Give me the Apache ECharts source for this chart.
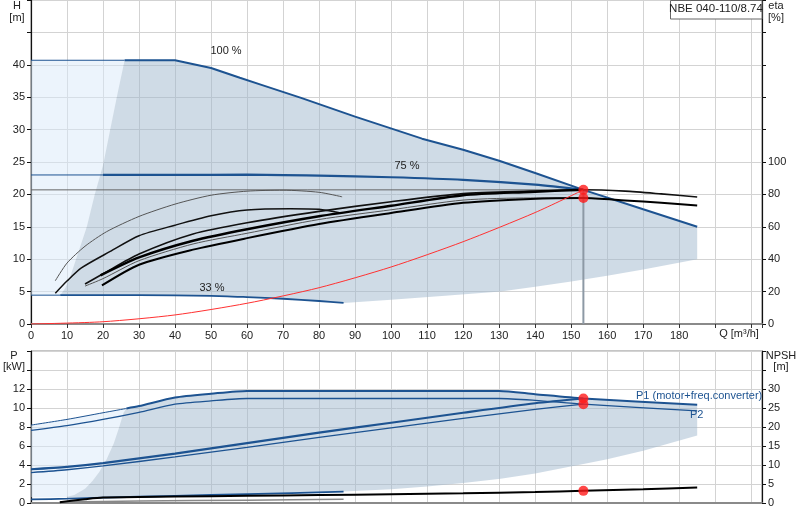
<!DOCTYPE html>
<html>
<head>
<meta charset="utf-8">
<script src="https://cdn.jsdelivr.net/npm/echarts@6/dist/echarts.min.js"></script>
<style>html,body{margin:0;padding:0;background:#fff}#main{width:800px;height:520px}</style>
</head>
<body>
<div id="main"></div>
<script>
var myChart = echarts.init(document.getElementById('main'));

/* Q-H curves (top chart), [Q m3/h, H m] */
var h100 = [[0,40.7],[26,40.7],[40,40.7],[50,39.5],[58,38],[64,36.9],[75,34.9],[90,32],[108.6,28.6],[120,26.9],[130,25.2],[140,23.3],[153.4,20.7],[170,17.7],[185,15.0]];
var h75 = [[0,23],[20,23],[40,23],[60,23.05],[80,22.9],[100,22.65],[120,22.25],[140,21.5],[153.4,20.7]];
var h33 = [[0,4.45],[8.1,4.45],[30,4.45],[50,4.35],[60,4.15],[70,3.9],[80,3.55],[86.8,3.25]];
var systemCurve = [[0,0],[20,0.35],[40,1.4],[60,3.2],[80,5.6],[100,8.8],[120,12.7],[140,17.2],[153.4,20.7]];
// operating range edges
var hLeftEdge = [[8.1,4.45],[9.5,5.5],[11,7.5],[12.5,10],[14,12.5],[15.5,15],[17.7,20],[20,24.5],[22,30],[24,35.5],[26,40.7]];
var hLowEdge = [[86.8,3.25],[100,3.75],[115,4.35],[130.4,5.03],[140,5.75],[150,6.55],[160,7.45],[170,8.4],[185,10.0]];

/* efficiency curves, [Q, eta %] */
var etaLow1 = [[6.75,26.7],[10,37.6],[15,48],[21,57],[30,66.4],[40,74],[50,79.5],[60,82],[70,82.6],[80,81.3],[86.4,78.5]];
var etaLow2 = [[6.75,19],[10,26.5],[14,34.6],[22,44.8],[30,54.5],[40,61],[50,66.8],[60,70.4],[72,71.2],[80,70.8],[86,68.5]];
var etaA = [[15,24.7],[20,31],[30,43.2],[45,55.6],[60,62.5],[80,69.5],[100,75.5],[120,80.5],[138.7,82],[153.4,82.9],[165,82],[175,80.3],[185,78.4]];
var etaB = [[19.3,30],[30,41.1],[45,51.4],[60,58.5],[80,66.5],[100,73],[120,79.5],[138.7,81.5],[153.4,82.9]];
var etaC = [[15,23.4],[20,28],[30,39.1],[45,49.4],[60,56],[80,64.5],[100,70.5],[120,76.5],[138.7,77.8],[153.4,77.8]];
var etaD = [[19.7,23.8],[30,36.6],[45,45.9],[60,53],[80,61.7],[100,68.5],[120,74.8],[138.7,77.2],[153.4,77.8],[165,76.3],[175,74.8],[185,73.2]];

/* power and NPSH (bottom chart), [Q, P kW] / [Q, NPSH m] */
var p1Full = [[0,8.2],[10,8.8],[20,9.5],[26.5,9.95],[30,10.2],[40,11.1],[50,11.5],[60,11.8],[130,11.8],[140,11.45],[153.4,11.0],[185,10.35]];
var p2Full = [[0,7.65],[10,8.15],[20,8.8],[30,9.55],[40,10.4],[50,10.75],[60,11.0],[130,11.0],[140,10.8],[153.4,10.4],[185,9.7]];
var p1Duty = [[0,3.55],[10,3.8],[20,4.2],[40,5.2],[60,6.3],[80,7.4],[100,8.45],[120,9.5],[140,10.5],[153.4,11.0]];
var p2Duty = [[0,3.2],[10,3.5],[20,3.9],[40,4.85],[60,5.85],[80,6.9],[100,7.9],[120,8.9],[140,9.85],[153.4,10.4]];
var p1Low = [[0,0.38],[10,0.45],[20,0.56],[40,0.75],[60,0.93],[86.8,1.19]];
var p2Low = [[8,0.1],[30,0.2],[60,0.3],[86.8,0.39]];
var npsh = [[8,0.2],[15,1.0],[20,1.45],[40,1.7],[60,1.9],[80,2.1],[100,2.3],[120,2.55],[140,2.9],[153.4,3.2],[170,3.6],[185,4.1]];
var pLeftEdge = [[9.5,0.6],[12,0.85],[15,1.5],[17,2.3],[19,3.3],[21,4.6],[23,6.3],[24.5,8],[25.7,9.5],[26.5,9.95]];
var pLowEdge = [[86.8,1.2],[100,1.45],[110,1.75],[120,2.1],[130.4,2.55],[140,3.1],[153.4,4.1],[160,4.6],[170,5.5],[185,7.1]];
var pBaseEdge = [[9.5,0.6],[20,0.62],[40,0.78],[60,0.95],[86.8,1.2]];

/* duty point */
var dutyQ = 153.4, dutyH = 20.7, dutyEta = 77.8, dutyP1 = 11.0, dutyP2 = 10.4, dutyNpsh = 3.2;

var BLUE = '#1d5391';
var FILL = 'rgba(160,184,206,0.5)';
var LIGHT = 'rgba(218,234,250,0.5)';

function between(arr, a, b) {
    return arr.filter(function (d) { return d[0] >= a && d[0] <= b; });
}
function rev(arr) { return arr.slice().reverse(); }

var topPoly = [].concat(hLeftEdge, between(h100, 26.1, 185), [[185, 10.0]], rev(hLowEdge), rev(between(h33, 8.2, 86.7)));
var topLight = [].concat([[0, 4.45]], hLeftEdge, [[0, 40.7]]);
var botPoly = [].concat(pLeftEdge, between(p1Full, 26.6, 185), [[185, 7.1]], rev(pLowEdge), rev(pBaseEdge));
var botLight = [].concat([[0, 0.6]], pLeftEdge, rev(between(p1Full, 0, 26.4)));

function polySeries(pts, fill, xi, yi) {
    return {
        type: 'custom', xAxisIndex: xi, yAxisIndex: yi, silent: true, z: 1,
        data: pts,
        renderItem: function (params, api) {
            if (params.dataIndex !== 0) return;
            var p = pts.map(function (d) { return api.coord(d); });
            return { type: 'polygon', shape: { points: p }, style: { fill: fill } };
        }
    };
}
function line(data, color, width, xi, yi, smooth, z) {
    return {
        type: 'line', xAxisIndex: xi, yAxisIndex: yi, data: data, symbol: 'none',
        smooth: smooth ? 0.25 : false, z: z || 3, silent: true,
        lineStyle: { color: color, width: width }
    };
}
function dots(data, xi, yi) {
    return {
        type: 'scatter', xAxisIndex: xi, yAxisIndex: yi, data: data, symbolSize: 10, z: 10, silent: true,
        itemStyle: { color: '#ff1a1a' }
    };
}

var font = { fontSize: 11, color: '#222', fontFamily: 'Liberation Sans, Arial, sans-serif' };
function xAx(grid, labels) {
    return {
        type: 'value', gridIndex: grid, min: 0, max: 203, interval: 10,
        axisLine: { show: true, onZero: false, lineStyle: { color: '#8a8a8a', width: 2 } },
        axisTick: { show: labels, length: 4, lineStyle: { color: '#333' } },
        axisLabel: Object.assign({ show: labels, margin: 6, formatter: function (v) { return v <= 180 ? v : ''; } }, font),
        splitLine: { show: true, lineStyle: { color: '#d3d3d3' } }
    };
}
function yAx(grid, pos, max, step, lastLabel, split) {
    return {
        type: 'value', gridIndex: grid, position: pos, min: 0, max: max, interval: step,
        axisLine: { show: true, onZero: false, lineStyle: { color: '#111', width: 1.2 } },
        axisTick: { show: true, length: 4, lineStyle: { color: '#111' } },
        axisLabel: Object.assign({ margin: 6, formatter: function (v) { return v <= lastLabel ? v : ''; } }, font),
        splitLine: { show: split, lineStyle: { color: '#d3d3d3' } }
    };
}
function txt(x, y, s, opts) {
    return {
        type: 'text', x: x, y: y, z: 20, silent: true,
        style: Object.assign({ text: s, fill: '#222', font: '11px "Liberation Sans", Arial, sans-serif', textAlign: 'center', textVerticalAlign: 'middle' }, opts || {})
    };
}

option = {
    animation: false,
    backgroundColor: '#fff',
    grid: [
        { left: 31, top: 0, width: 731, height: 324, show: true, borderColor: '#8a8a8a', borderWidth: 1 },
        { left: 31, top: 351, width: 731, height: 152, show: true, borderColor: '#8a8a8a', borderWidth: 1 }
    ],
    xAxis: [xAx(0, true), xAx(1, false)],
    yAxis: [
        yAx(0, 'left', 50, 5, 40, true),
        yAx(0, 'right', 200, 20, 100, false),
        yAx(1, 'left', 16, 2, 12, true),
        yAx(1, 'right', 40, 5, 30, false)
    ],
    graphic: [
        txt(17, 6, 'H'), txt(17, 18, '[m]'),
        txt(776, 6, 'eta'), txt(776, 18, '[%]'),
        txt(739, 334, 'Q [m³/h]'),
        txt(14, 356, 'P'), txt(14, 367, '[kW]'),
        txt(781, 356, 'NPSH'), txt(781, 367, '[m]'),
        txt(226, 51, '100 %'), txt(407, 166, '75 %'), txt(212, 288, '33 %'),
        txt(636, 396, 'P1 (motor+freq.converter)', { textAlign: 'left', fill: BLUE }),
        txt(690, 415, 'P2', { textAlign: 'left', fill: BLUE }),
        { type: 'rect', z: 19, silent: true, shape: { x: 670.5, y: 0.5, width: 91.5, height: 18.5 },
          style: { fill: '#fff', stroke: '#666', lineWidth: 1 } },
        txt(716, 9, 'NBE 040-110/8.74', { font: '11.5px "Liberation Sans", Arial, sans-serif' })
    ],
    series: [
        polySeries(topLight, LIGHT, 0, 0),
        polySeries(topPoly, FILL, 0, 0),
        polySeries(botLight, LIGHT, 1, 2),
        polySeries(botPoly, FILL, 1, 2),

        // duty reference lines
        line([[0, dutyH], [dutyQ, dutyH]], '#666', 1, 0, 0, false, 2),
        line([[dutyQ, 0], [dutyQ, dutyH]], '#8d99a5', 2, 0, 0, false, 2),

        // H curves
        line(between(h100, 0, 26), BLUE, 1, 0, 0, false),
        line(between(h100, 26, 185), BLUE, 2, 0, 0, false),
        line(between(h75, 0, 20), BLUE, 1, 0, 0, false),
        line(between(h75, 20, 160), BLUE, 2.2, 0, 0, true),
        line(between(h33, 0, 8.1), BLUE, 1, 0, 0, false),
        line(between(h33, 8.1, 90), BLUE, 1.8, 0, 0, true),
        line(systemCurve, '#ff3030', 1, 0, 0, true, 4),

        // efficiency curves
        line(etaLow1, '#555', 1, 0, 1, true),
        line(etaLow2, '#111', 1.5, 0, 1, true),
        line(etaA, '#111', 1.6, 0, 1, true),
        line(etaB, '#000', 2.4, 0, 1, true),
        line(etaC, '#555', 1, 0, 1, true),
        line(etaD, '#000', 2, 0, 1, true),

        // power
        line(between(p1Full, 0, 26.5), BLUE, 1, 1, 2, true),
        line(between(p1Full, 26.5, 185), BLUE, 2, 1, 2, true),
        line(p2Full, BLUE, 1.3, 1, 2, true),
        line(p1Duty, BLUE, 2.2, 1, 2, true),
        line(p2Duty, BLUE, 1.3, 1, 2, true),
        line(p1Low, BLUE, 1.8, 1, 2, true),
        line(p2Low, '#888', 1.5, 1, 2, true),
        line(npsh, '#000', 2, 1, 3, true),

        // duty points
        dots([[dutyQ, dutyH]], 0, 0),
        dots([[dutyQ, dutyEta]], 0, 1),
        dots([[dutyQ, dutyP1], [dutyQ, dutyP2]], 1, 2),
        dots([[dutyQ, dutyNpsh]], 1, 3)
    ]
};

myChart.setOption(option);
</script>
</body>
</html>
